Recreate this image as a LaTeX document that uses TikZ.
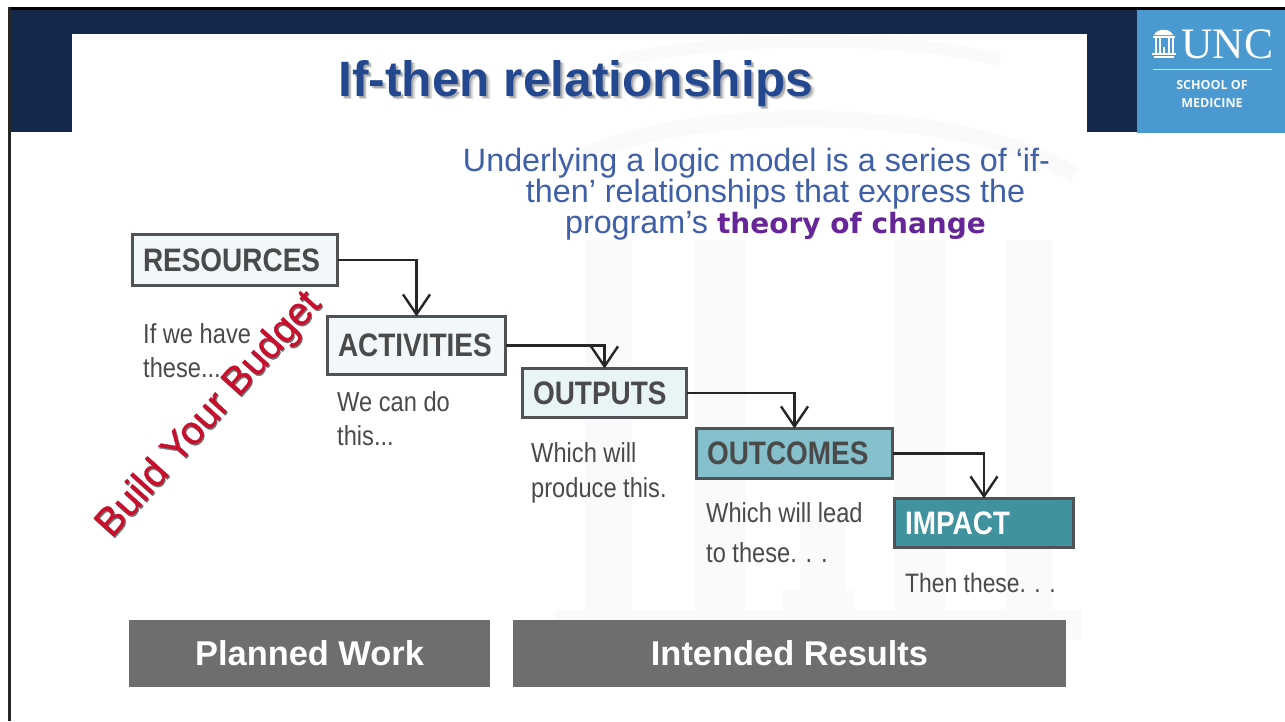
\documentclass[tikz,border=0pt]{standalone}
\usepackage{fontspec}
\usetikzlibrary{arrows.meta}
\setmainfont{Liberation Sans}
\newfontfamily\narrowreg[FakeStretch=0.86]{Liberation Sans}
\newcommand{\narrowbold}{\narrowreg\bfseries}
\newcommand{\widebold}{\rmfamily\bfseries}
\newfontfamily\logoserif{Liberation Serif}
\newfontfamily\logosansfam{Open Sans}
\newcommand{\logosans}{\logosansfam\bfseries}
\newfontfamily\comicfam{DejaVu Sans}
\newcommand{\comicish}{\comicfam\bfseries}
\newfontfamily\budgetfont[FakeBold=1.0]{Liberation Sans}
\definecolor{navy}{HTML}{14284B}
\definecolor{logoblue}{HTML}{4A9AD1}
\definecolor{titleblue}{HTML}{24488F}
\definecolor{subblue}{HTML}{3F5FA8}
\definecolor{purp}{HTML}{66269A}
\definecolor{edgegrey}{HTML}{4F5355}
\definecolor{bodytxt}{HTML}{4A4A4A}
\definecolor{barg}{HTML}{6E6E6E}
\definecolor{budgetred}{HTML}{C8102E}
\definecolor{wmgrey}{HTML}{FAFAFA}
\definecolor{paleA}{HTML}{F2F7F9}
\definecolor{paleB}{HTML}{E9F4F6}
\definecolor{tealA}{HTML}{86C0CC}
\definecolor{tealB}{HTML}{40939E}
\tikzset{
  stepbox/.style={draw=edgegrey,line width=3pt,inner xsep=10.5pt,inner ysep=0pt,outer sep=0pt,text=bodytxt,
    align=left,font=\narrowbold\fontsize{32.5}{32.5}\selectfont},
  lbl/.style={anchor=base west,inner sep=0pt,text=bodytxt,font=\narrowreg\fontsize{27.5}{27.5}\selectfont},
  bar/.style={fill=barg,inner sep=0pt,outer sep=0pt,text=white,font=\widebold\fontsize{34.4}{34.4}\selectfont},
  sub/.style={anchor=base,inner sep=0pt,text=subblue,font=\fontsize{32.3}{32.3}\selectfont},
  titletext/.style={anchor=base west,inner sep=0pt,font=\widebold\fontsize{49.7}{49.7}\selectfont},
  budgettext/.style={rotate=48,inner sep=0pt,font=\budgetfont\fontsize{39.5}{39.5}\selectfont},
  flow/.style={draw=black!85,line width=2.4pt,-{Straight Barb[length=20pt,width=27pt,line width=2.4pt]}},
  wm/.style={fill=wmgrey,draw=none}
}
\begin{document}
\begin{tikzpicture}[x=1pt,y=-1pt]
\useasboundingbox (0,0) rectangle (1285,721);
\fill[white] (0,0) rectangle (1285,721);
% frame
\fill[black] (8,7) rectangle (1285,10);
\fill[black!85] (8,7) rectangle (10.5,721);
% banner
\fill[navy] (10.5,10) rectangle (1137,132);
\fill[white] (72,34) rectangle (1087,132);
% watermark
\fill[wm] (585,240) rectangle (632,640);
\fill[wm] (695,240) rectangle (745,640);
\fill[wm] (895,240) rectangle (945,640);
\fill[wm] (1005,240) rectangle (1052,640);
\fill[wm] (800,510) rectangle (845,590);
\fill[wm] (783,590) rectangle (854,630);
\draw[wmgrey,line width=16pt] (555,175) .. controls (640,100) and (960,100) .. (1075,175);
\draw[wmgrey,line width=12pt] (620,60) .. controls (740,35) and (900,35) .. (1000,60);
\fill[wm] (555,610) rectangle (1082,640);
% title
\node[titletext,text=black,opacity=.13] (titleshadowb) at (341.5,99.5) {If-then relationships};
\node[titletext,text=black,opacity=.22] (titleshadowa) at (340,98) {If-then relationships};
\node[titletext,text=titleblue] (title) at (338,96) {If-then relationships};
% subtitle
\node[sub] (sub1) at (756.5,171) {Underlying a logic model is a series of ‘if-};
\node[sub] (sub2) at (775.5,202) {then’ relationships that express the};
\node[sub] (sub3) at (775.5,233) {program’s {\comicish\color{purp}\fontsize{28}{28}\selectfont theory of change}};
% boxes
\node[stepbox,fill=paleA,text width=184pt,minimum height=51pt] (res) at (235,260) {RESOURCES};
\node[stepbox,fill=paleA,text width=157pt,minimum height=58pt] (act) at (416.5,345.5) {ACTIVITIES};
\node[stepbox,fill=paleB,text width=143pt,minimum height=49pt] (opt) at (604.5,393) {OUTPUTS};
\node[stepbox,fill=tealA,text width=175pt,minimum height=50pt] (ocm) at (794.5,453.5) {OUTCOMES};
\node[stepbox,fill=tealB,text=white,text width=158pt,minimum height=49pt] (imp) at (984,523) {IMPACT};
% connectors
\draw[flow] (res.east) -| (act.north);
\draw[flow] (act.east) -| (opt.north);
\draw[flow] (opt.east) -| (ocm.north);
\draw[flow] (ocm.east) -| (imp.north);
% labels
\node[lbl] (l1a) at (143,343) {If we have};
\node[lbl] (l1b) at (143,377) {these...};
\node[lbl] (l2a) at (337,411) {We can do};
\node[lbl] (l2b) at (337,445) {this...};
\node[lbl] (l3a) at (531,462) {Which will};
\node[lbl] (l3b) at (531,497) {produce this.};
\node[lbl] (l4a) at (706,522) {Which will lead};
\node[lbl] (l4b) at (706,562) {to these. . .};
\node[lbl,font=\narrowreg\fontsize{26.6}{26.6}\selectfont] (l5) at (905,592) {Then these. . .};
% diagonal
\node[budgettext,text=black!55] (budgetshadow) at (210.5,416.5) {Build Your Budget};
\node[budgettext,text=budgetred] (budget) at (209.5,415) {Build Your Budget};
% bars
\node[bar,minimum width=361pt,minimum height=67pt] (planned) at (309.5,653.5) {Planned Work};
\node[bar,minimum width=553pt,minimum height=67pt] (intended) at (789.5,653.5) {Intended Results};
% logo
\fill[logoblue] (1137,10) rectangle (1285,133);
\fill[white] (1154,35) .. controls (1157,28) and (1170,28) .. (1173,35) -- cycle;
\fill[white] (1153,36) rectangle (1175,38);
\foreach \cx in {1155,1159,1168,1172}{\fill[white] (\cx,38) rectangle ++(1.6,15);}
\fill[white] (1163,47) rectangle ++(1.5,6);
\fill[white] (1152,53) rectangle (1176,55);
\fill[white] (1154,56) rectangle (1174,58);
\node[anchor=base west,inner sep=0pt,text=white,font=\logoserif\fontsize{43.5}{43.5}\selectfont] (unc) at (1181,58) {UNC};
\fill[white!70!logoblue] (1153,69) rectangle (1272,70);
\node[inner sep=0pt,text=white!95!logoblue,font=\logosans\fontsize{12.5}{12.5}\selectfont] (som1) at (1212,85) {SCHOOL OF};
\node[inner sep=0pt,text=white!95!logoblue,font=\logosans\fontsize{12.5}{12.5}\selectfont] (som2) at (1212,103) {MEDICINE};
\end{tikzpicture}
\end{document}
